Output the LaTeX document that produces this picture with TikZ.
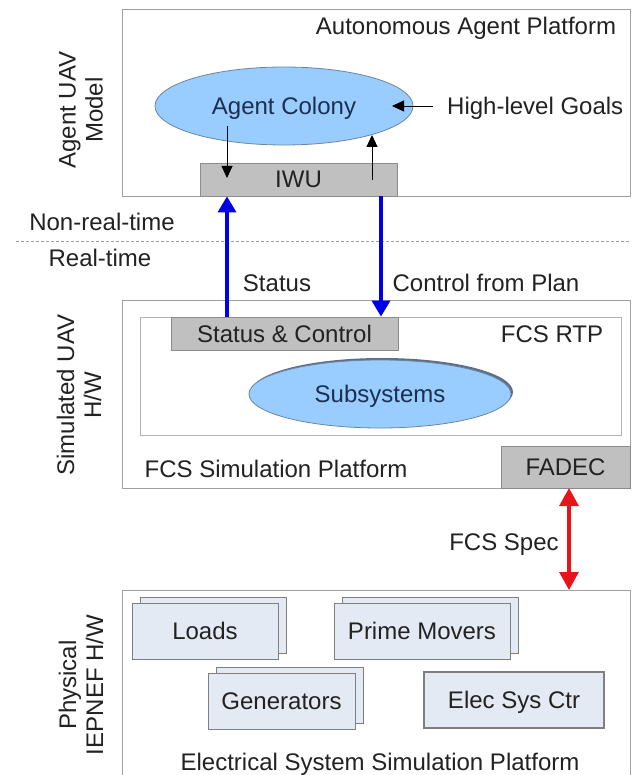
\documentclass[tikz,border=0pt]{standalone}
\usepackage{fontspec}
\setmainfont{Liberation Sans}
\usetikzlibrary{arrows.meta,shapes.geometric,shadows}

\definecolor{txt}{HTML}{222222}
\definecolor{platline}{HTML}{A0A0A0}
\definecolor{grayfill}{HTML}{C0C0C0}
\definecolor{grayline}{HTML}{8C8C8C}
\definecolor{ellfill}{HTML}{99CCFF}
\definecolor{ellline}{HTML}{6A86A6}
\definecolor{elltxt}{HTML}{1C2F4C}
\definecolor{lbfill}{HTML}{E4EAF4}
\definecolor{lbline}{HTML}{7F7F7F}
\definecolor{shadowc}{HTML}{4E5F78}
\definecolor{linkblue}{HTML}{0000E6}
\definecolor{linkred}{HTML}{E8141B}

\tikzset{
  every node/.style={font=\fontsize{24}{27}\selectfont, text=txt},
  capc/.style={text height=17pt, text depth=0pt, inner sep=0pt},
  platform/.style={draw=platline, line width=0.9pt, anchor=north west, inner sep=0pt},
  graybox/.style={draw=grayline, fill=grayfill, line width=0.8pt, capc},
  agentell/.style={ellipse, draw=ellline, fill=ellfill, line width=0.8pt, capc, text=elltxt},
  lightbox/.style={draw=lbline, fill=lbfill, line width=0.9pt, capc,
    minimum height=56pt},
  stackbox/.style={lightbox,
    copy shadow={shadow xshift=8pt, shadow yshift=6pt, draw=lbline, fill=lbfill}},
  thinarrow/.style={draw=black, line width=0.9pt, -{Triangle[length=12pt,width=11pt]}},
  bluearrow/.style={draw=linkblue, line width=3.4pt, -{Triangle[length=16pt,width=18pt]}},
  redarrow/.style={draw=linkred, line width=3.2pt,
    {Triangle[length=18pt,width=19pt]}-{Triangle[length=18pt,width=19pt]}},
  sidelabel/.style={rotate=90, align=center}
}

\begin{document}
\begin{tikzpicture}[x=1pt, y=-1pt]
\useasboundingbox[fill=white] (0,0) rectangle (631,775);

% --- Agent UAV model layer ---
\node[platform, minimum width=508pt, minimum height=187pt] (agentplat) at (122,9) {};
\node[anchor=base] (aaptitle) at (466,35) {Autonomous Agent Platform};
\node[sidelabel] (agentlbl) at (81,110) {Agent UAV\\Model};
\node[agentell, minimum width=258pt, minimum height=78pt] (colony) at (284,106) {Agent Colony};
\node[anchor=base west, inner sep=0pt] (goals) at (447,115) {High-level Goals};
\node[graybox, minimum width=197pt, minimum height=33pt] (iwu) at (298.5,179.5) {IWU};

\coordinate (goalstail) at (433,106);
\coordinate (colonyin) at (392,106);
\draw[thinarrow] (goalstail) -- (colonyin);
\coordinate (downstart) at (227,126);
\draw[thinarrow] (downstart) -- (227,178);
\coordinate (upstart) at (372,180);
\draw[thinarrow] (upstart) -- (372,135);

% --- real-time boundary ---
\node[anchor=base] (nrt) at (102,230.5) {Non-real-time};
\node[anchor=base] (rt) at (100,266.5) {Real-time};
\coordinate (dashl) at (16,242);
\coordinate (dashr) at (631,242);
\draw[platline, line width=1pt, dash pattern=on 3pt off 2pt] (dashl) -- (dashr);

% --- Simulated UAV H/W layer ---
\node[platform, minimum width=508pt, minimum height=188pt] (fcsplat) at (122,300) {};
\node[platform, draw=platline!80, minimum width=481pt, minimum height=118pt] (rtp) at (140,317) {};
\node[graybox, minimum width=227pt, minimum height=33pt] (sc) at (284.5,333.5) {Status \& Control};
\node[anchor=base] (rtptitle) at (552,342) {FCS RTP};
\node[agentell, minimum width=262pt, minimum height=68pt,
  drop shadow={shadow xshift=2pt, shadow yshift=2pt, fill=shadowc, opacity=0.9}]
  (subsys) at (380,394) {Subsystems};
\node[anchor=base] (fcstitle) at (276,477.5) {FCS Simulation Platform};
\node[graybox, minimum width=129pt, minimum height=42pt] (fadec) at (565.5,467) {FADEC};
\node[sidelabel] (simlbl) at (79,395) {Simulated UAV\\H/W};

% status / control links
\draw[bluearrow] (sc.north -| 227,0) -- (iwu.south -| 227,0);
\draw[bluearrow] (iwu.south -| 381,0) -- (sc.north -| 381,0);
\node[anchor=base] (statuslbl) at (277,291) {Status};
\node[anchor=base] (ctrllbl) at (486,291) {Control from Plan};

% --- Physical IEPNEF H/W layer ---
\coordinate (elecbl) at (122,777);
\coordinate (electl) at (122,590);
\coordinate (electr) at (630,590);
\coordinate (elecbr) at (630,777);
\draw[platline, line width=0.9pt] (elecbl) -- (electl) -- (electr) -- (elecbr);
\node[sidelabel] (physlbl) at (81,685) {Physical\\IEPNEF H/W};

\coordinate (spectop) at (569,488);
\coordinate (specbot) at (569,590);
\draw[redarrow] (spectop) -- (specbot);
\node[anchor=base] (speclbl) at (504,550) {FCS Spec};

\node[stackbox, minimum width=146pt] (loads) at (205,631) {Loads};
\node[stackbox, minimum width=176pt] (movers) at (422,631) {Prime Movers};
\node[stackbox, minimum width=147pt] (gens) at (281.5,701) {Generators};
\node[lightbox, line width=1.3pt, draw=lbline, minimum width=180pt] (esc) at (514,700) {Elec Sys Ctr};
\node[anchor=base] (electitle) at (380,770) {Electrical System Simulation Platform};
\end{tikzpicture}
\end{document}
